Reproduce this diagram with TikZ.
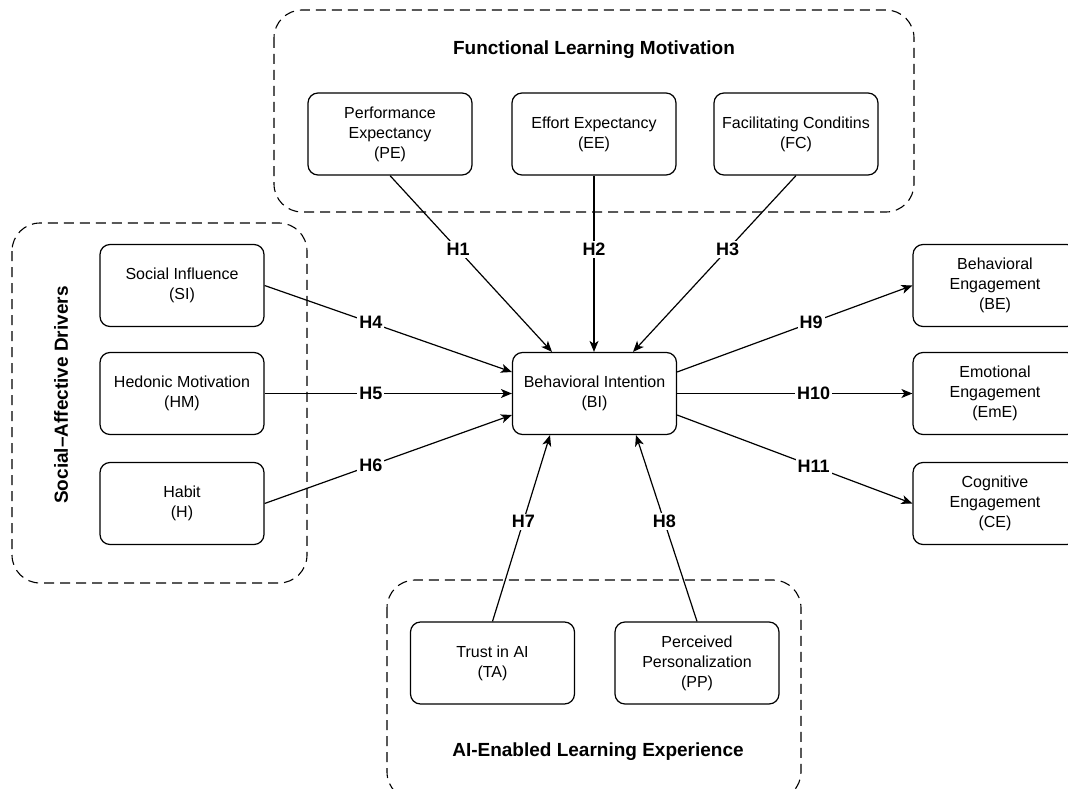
\documentclass[tikz,border=0pt]{standalone}
\usepackage{fontspec}
\setmainfont{Liberation Sans}
\usetikzlibrary{arrows.meta}
\begin{document}
\begin{tikzpicture}[x=1pt,y=-1pt,
  box/.style={draw,line width=1.2pt,rounded corners=10pt,minimum width=164pt,minimum height=82pt,inner sep=2pt,align=center,font=\fontsize{16}{20}\selectfont},
  grp/.style={draw,line width=1.1pt,dash pattern=on 10pt off 6pt,rounded corners=28pt},
  gtitle/.style={font=\fontsize{19}{23}\selectfont\bfseries},
  arr/.style={line width=1.2pt,-{Stealth[length=11pt,width=9pt,inset=3pt]}},
  hl/.style={fill=white,inner sep=2pt,font=\fontsize{18}{20}\selectfont\bfseries}]
\useasboundingbox (0,0) rectangle (1068,789);
\clip (0,0) rectangle (1068,789);
% groups
\draw[grp] (274,10) rectangle (914,212);
\draw[grp] (12,223) rectangle (307,583);
\draw[grp] (387,580) rectangle (801,800);
\node[gtitle] (tFLM) at (594,50) {Functional Learning Motivation};
\node[gtitle,rotate=90] (tSAD) at (61,395) {Social–Affective Drivers};
\node[gtitle] (tAIE) at (598,752) {AI-Enabled Learning Experience};
% boxes
\node[box] (PE) at (390,134) {Performance\\Expectancy\\(PE)};
\node[box] (EE) at (594,134) {Effort Expectancy\\(EE)};
\node[box] (FC) at (796,134) {Facilitating Conditins\\(FC)};
\node[box] (SI) at (182,285.5) {Social Influence\\(SI)};
\node[box] (HM) at (182,393.5) {Hedonic Motivation\\(HM)};
\node[box] (H) at (182,503.5) {Habit\\(H)};
\node[box] (BI) at (594.5,393.5) {Behavioral Intention\\(BI)};
\node[box] (BE) at (995,285.5) {Behavioral\\Engagement\\(BE)};
\node[box] (EmE) at (995,393.5) {Emotional\\Engagement\\(EmE)};
\node[box] (CE) at (995,503.5) {Cognitive\\Engagement\\(CE)};
\node[box] (TA) at (492.5,663) {Trust in AI\\(TA)};
\node[box] (PP) at (697,663) {Perceived\\Personalization\\(PP)};
% arrows
\draw[arr] (PE.south) -- node[hl,pos=0.42] {H1} ([xshift=-42.5pt]BI.north);
\draw[arr] (EE.south) -- node[hl,pos=0.42] {H2} (EE.south |- BI.north);
\draw[arr] (FC.south) -- node[hl,pos=0.42] {H3} ([xshift=38.5pt]BI.north);
\draw[arr] (SI.east) -- node[hl,pos=0.43] {H4} ([yshift=21.5pt]BI.west);
\draw[arr] (HM.east) -- node[hl,pos=0.43] {H5} (BI.west);
\draw[arr] (H.east) -- node[hl,pos=0.43] {H6} ([yshift=-21.5pt]BI.west);
\draw[arr] (TA.north) -- node[hl,pos=0.535] {H7} ([xshift=-44.5pt]BI.south);
\draw[arr] (PP.north) -- node[hl,pos=0.535] {H8} ([xshift=41.5pt]BI.south);
\draw[arr] ([yshift=21.5pt]BI.east) -- node[hl,pos=0.57] {H9} (BE.west);
\draw[arr] (BI.east) -- node[hl,pos=0.58] {H10} (EmE.west);
\draw[arr] ([yshift=-21.5pt]BI.east) -- node[hl,pos=0.58] {H11} (CE.west);
\end{tikzpicture}
\end{document}
